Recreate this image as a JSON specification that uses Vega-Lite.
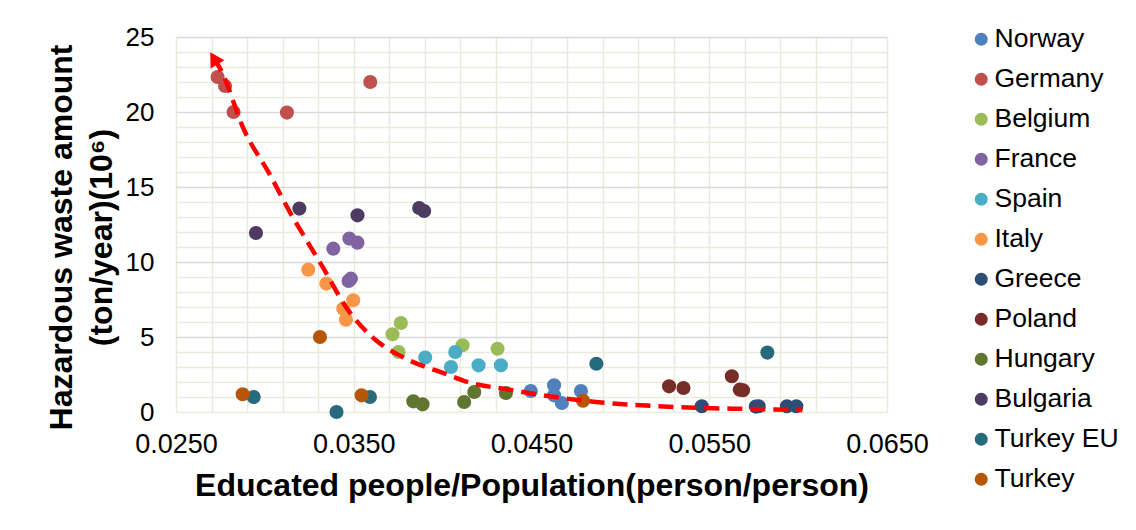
{
  "$schema": "https://vega.github.io/schema/vega-lite/v6.json",
  "width": 711,
  "height": 375,
  "autosize": {"type": "none"},
  "padding": {"left": 176, "top": 37, "right": 249, "bottom": 118},
  "background": "white",
  "config": {
    "view": {"stroke": null},
    "font": "Liberation Sans",
    "axis": {
      "labelFont": "Liberation Sans",
      "labelColor": "#000000",
      "titleFont": "Liberation Sans",
      "titleColor": "#000000",
      "titleFontWeight": "bold",
      "domain": false,
      "ticks": false,
      "gridWidth": 1.5
    },
    "legend": {
      "labelFont": "Liberation Sans",
      "labelColor": "#000000"
    }
  },
  "datasets": {
    "obs": [
      {"country": "Norway", "ratio": 0.04496, "waste": 1.40},
      {"country": "Norway", "ratio": 0.04627, "waste": 1.78},
      {"country": "Norway", "ratio": 0.04627, "waste": 1.11},
      {"country": "Norway", "ratio": 0.04671, "waste": 0.60},
      {"country": "Norway", "ratio": 0.04778, "waste": 1.40},
      {"country": "Germany", "ratio": 0.02734, "waste": 22.33},
      {"country": "Germany", "ratio": 0.02776, "waste": 21.73},
      {"country": "Germany", "ratio": 0.02824, "waste": 20.0},
      {"country": "Germany", "ratio": 0.03124, "waste": 19.96},
      {"country": "Germany", "ratio": 0.03593, "waste": 22.0},
      {"country": "Belgium", "ratio": 0.03718, "waste": 5.18},
      {"country": "Belgium", "ratio": 0.03765, "waste": 5.93},
      {"country": "Belgium", "ratio": 0.03752, "waste": 4.0},
      {"country": "Belgium", "ratio": 0.04112, "waste": 4.45},
      {"country": "Belgium", "ratio": 0.04309, "waste": 4.22},
      {"country": "France", "ratio": 0.03385, "waste": 10.89},
      {"country": "France", "ratio": 0.03475, "waste": 11.56},
      {"country": "France", "ratio": 0.03521, "waste": 11.29},
      {"country": "France", "ratio": 0.03471, "waste": 8.73},
      {"country": "France", "ratio": 0.03484, "waste": 8.89},
      {"country": "Spain", "ratio": 0.03902, "waste": 3.63},
      {"country": "Spain", "ratio": 0.04071, "waste": 4.0},
      {"country": "Spain", "ratio": 0.04047, "waste": 3.0},
      {"country": "Spain", "ratio": 0.04202, "waste": 3.11},
      {"country": "Spain", "ratio": 0.04328, "waste": 3.11},
      {"country": "Italy", "ratio": 0.03244, "waste": 9.49},
      {"country": "Italy", "ratio": 0.03346, "waste": 8.56},
      {"country": "Italy", "ratio": 0.03497, "waste": 7.45},
      {"country": "Italy", "ratio": 0.03441, "waste": 6.89},
      {"country": "Italy", "ratio": 0.03456, "waste": 6.15},
      {"country": "Greece", "ratio": 0.05458, "waste": 0.38},
      {"country": "Greece", "ratio": 0.05762, "waste": 0.36},
      {"country": "Greece", "ratio": 0.05778, "waste": 0.38},
      {"country": "Greece", "ratio": 0.05937, "waste": 0.38},
      {"country": "Greece", "ratio": 0.05990, "waste": 0.38},
      {"country": "Poland", "ratio": 0.05274, "waste": 1.71},
      {"country": "Poland", "ratio": 0.05355, "waste": 1.60},
      {"country": "Poland", "ratio": 0.05627, "waste": 2.38},
      {"country": "Poland", "ratio": 0.05672, "waste": 1.49},
      {"country": "Poland", "ratio": 0.05690, "waste": 1.45},
      {"country": "Hungary", "ratio": 0.03835, "waste": 0.71},
      {"country": "Hungary", "ratio": 0.03887, "waste": 0.51},
      {"country": "Hungary", "ratio": 0.04121, "waste": 0.67},
      {"country": "Hungary", "ratio": 0.04178, "waste": 1.33},
      {"country": "Hungary", "ratio": 0.04356, "waste": 1.27},
      {"country": "Bulgaria", "ratio": 0.02950, "waste": 11.93},
      {"country": "Bulgaria", "ratio": 0.03194, "waste": 13.56},
      {"country": "Bulgaria", "ratio": 0.03521, "waste": 13.11},
      {"country": "Bulgaria", "ratio": 0.03868, "waste": 13.60},
      {"country": "Bulgaria", "ratio": 0.03896, "waste": 13.40},
      {"country": "Turkey EU", "ratio": 0.02937, "waste": 1.0},
      {"country": "Turkey EU", "ratio": 0.03403, "waste": 0.0},
      {"country": "Turkey EU", "ratio": 0.03591, "waste": 1.0},
      {"country": "Turkey EU", "ratio": 0.04865, "waste": 3.22},
      {"country": "Turkey EU", "ratio": 0.05827, "waste": 3.96},
      {"country": "Turkey", "ratio": 0.02875, "waste": 1.18},
      {"country": "Turkey", "ratio": 0.03310, "waste": 5.0},
      {"country": "Turkey", "ratio": 0.03544, "waste": 1.11},
      {"country": "Turkey", "ratio": 0.04790, "waste": 0.75}
    ],
    "fit": [
      {"ratio": 0.02713, "waste": 23.58},
      {"ratio": 0.02753, "waste": 22.78},
      {"ratio": 0.02884, "waste": 18.78},
      {"ratio": 0.03025, "waste": 15.89},
      {"ratio": 0.03156, "waste": 13.0},
      {"ratio": 0.03212, "waste": 11.89},
      {"ratio": 0.03325, "waste": 9.67},
      {"ratio": 0.03456, "waste": 7.0},
      {"ratio": 0.03625, "waste": 4.78},
      {"ratio": 0.03774, "waste": 3.67},
      {"ratio": 0.04037, "waste": 2.45},
      {"ratio": 0.04112, "waste": 2.11},
      {"ratio": 0.04393, "waste": 1.45},
      {"ratio": 0.04674, "waste": 0.93},
      {"ratio": 0.04862, "waste": 0.67},
      {"ratio": 0.05312, "waste": 0.33},
      {"ratio": 0.05724, "waste": 0.2},
      {"ratio": 0.06024, "waste": 0.13}
    ]
  },
  "layer": [
    {
      "data": {"name": "obs"},
      "mark": {"type": "point", "shape": "circle", "filled": true, "size": 200, "opacity": 1, "strokeWidth": 0},
      "encoding": {
        "x": {
          "field": "ratio",
          "type": "quantitative",
          "scale": {"domain": [0.025, 0.065], "nice": false, "zero": false},
          "axis": {
            "title": "Educated people/Population(person/person)",
            "titleFontSize": 32,
            "titleBaseline": "alphabetic",
            "titleY": 83,
            "values": [0.025, 0.027, 0.029, 0.031, 0.033, 0.035, 0.037, 0.039, 0.041, 0.043, 0.045, 0.047, 0.049, 0.051, 0.053, 0.055, 0.057, 0.059, 0.061, 0.063, 0.065],
            "tickCount": 100,
            "labelExpr": "round(datum.value * 1000) % 10 == 5 ? format(datum.value, '.4f') : ''",
            "labelFontSize": 27,
            "labelPadding": 19,
            "labelFlush": false,
            "labelOverlap": false,
            "gridColor": "#ECE9DF"
          }
        },
        "y": {
          "field": "waste",
          "type": "quantitative",
          "scale": {"domain": [0, 25], "nice": false},
          "axis": {
            "title": ["Hazardous waste amount", "(ton/year)(10⁶)"],
            "titleFontSize": 32,
            "titleAngle": -90,
            "titleAlign": "center",
            "titleBaseline": "middle",
            "titleLineHeight": 40,
            "titleX": -115,
            "titleY": 200,
            "values": [0, 1, 2, 3, 4, 5, 6, 7, 8, 9, 10, 11, 12, 13, 14, 15, 16, 17, 18, 19, 20, 21, 22, 23, 24, 25],
            "tickCount": 100,
            "labelExpr": "datum.value % 5 == 0 ? format(datum.value, 'd') : ''",
            "labelFontSize": 26,
            "labelPadding": 22,
            "labelOverlap": false,
            "gridColor": {"condition": {"test": "datum.value % 5 == 0 && datum.value > 0", "value": "#D9D9D9"}, "value": "#ECE9DF"}
          }
        },
        "color": {
          "field": "country",
          "type": "nominal",
          "scale": {
            "domain": ["Norway", "Germany", "Belgium", "France", "Spain", "Italy", "Greece", "Poland", "Hungary", "Bulgaria", "Turkey EU", "Turkey"],
            "range": ["#4F81BD", "#C0504D", "#9BBB59", "#8064A2", "#4BACC6", "#F79646", "#2C4D75", "#772C2A", "#5F7530", "#4D3B62", "#276A7C", "#B65708"]
          },
          "legend": {
            "title": null,
            "orient": "none",
            "legendX": 792,
            "legendY": -11,
            "padding": 0,
            "symbolType": "circle",
            "symbolSize": 170,
            "symbolStrokeWidth": 0,
            "labelFontSize": 26.5,
            "labelOffset": 0,
            "rowPadding": 13
          }
        }
      }
    },
    {
      "data": {"name": "fit"},
      "mark": {"type": "line", "color": "#FF0000", "strokeWidth": 4.5, "strokeDash": [15, 8], "strokeCap": "butt", "interpolate": "monotone"},
      "encoding": {
        "x": {"field": "ratio", "type": "quantitative"},
        "y": {"field": "waste", "type": "quantitative"}
      }
    },
    {
      "data": {"name": "fit"},
      "transform": [{"filter": "datum.ratio < 0.0272"}],
      "mark": {"type": "point", "shape": "triangle-up", "filled": true, "size": 260, "angle": 329, "color": "#FF0000", "opacity": 1, "strokeWidth": 0},
      "encoding": {
        "x": {"field": "ratio", "type": "quantitative"},
        "y": {"field": "waste", "type": "quantitative"}
      }
    }
  ]
}
